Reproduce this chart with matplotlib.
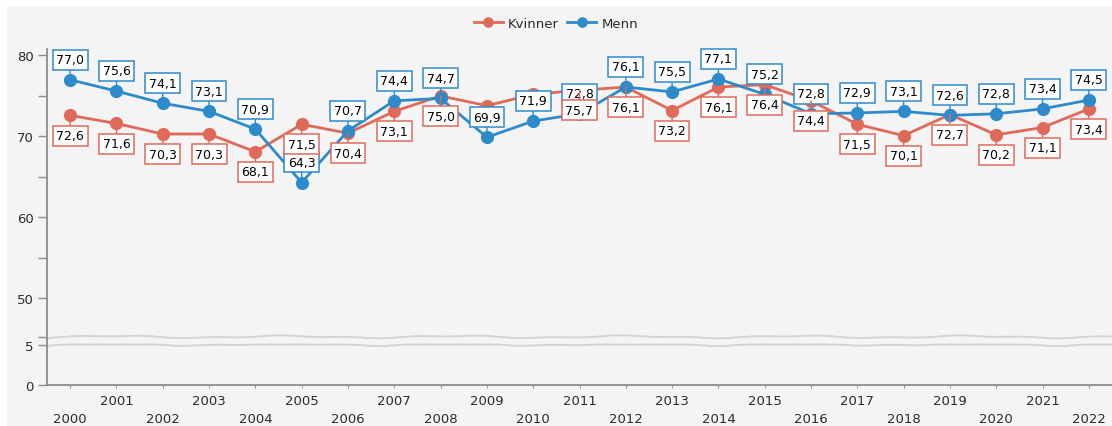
import matplotlib
matplotlib.use("Agg")
import matplotlib.pyplot as plt
import numpy as np
from matplotlib.patches import Rectangle

years = list(range(2000, 2023))
kvinner = [72.6, 71.6, 70.3, 70.3, 68.1, 71.5, 70.4, 73.1, 75.0, 73.8, 75.2, 75.7,
           76.1, 73.2, 76.1, 76.4, 74.4, 71.5, 70.1, 72.7, 70.2, 71.1, 73.4]
menn = [77.0, 75.6, 74.1, 73.1, 70.9, 64.3, 70.7, 74.4, 74.7, 69.9, 71.9, 72.8,
        76.1, 75.5, 77.1, 75.2, 72.8, 72.9, 73.1, 72.6, 72.8, 73.4, 74.5]
kvinner_no_label = [2009, 2010]  # labels not shown in the original

col_k = "#E0695A"
col_m = "#2E8BCB"
bg = "#F4F4F4"
axis_col = "#8C8C8C"
text_col = "#2B2B2B"

# broken y axis: squeeze 5..45 into a tiny band
def fwd(y):
    y = np.asarray(y, float)
    return np.where(y <= 5, y, np.where(y <= 45, 5 + (y - 5) * 0.7 / 40, y - 39.3))

def inv(t):
    t = np.asarray(t, float)
    return np.where(t <= 5, t, np.where(t <= 5.7, 5 + (t - 5) * 40 / 0.7, t + 39.3))

fig = plt.figure(figsize=(11.12, 4.27), dpi=100, facecolor=bg)
# white margin strips at the top and left
fig.patches.append(Rectangle((0, 1 - 6 / 427), 1, 6 / 427, transform=fig.transFigure,
                             color="white", zorder=-1))
fig.patches.append(Rectangle((0, 0), 6 / 1112, 1, transform=fig.transFigure,
                             color="white", zorder=-1))

ax = fig.add_axes([47 / 1112, 41 / 427, 1 - 47 / 1112, 336 / 427])
ax.set_facecolor(bg)
ax.set_yscale("function", functions=(fwd, inv))
ax.set_ylim(0, 80.8)
ax.set_xlim(-0.5, len(years) - 0.5)

x = np.arange(len(years))
ax.plot(x, kvinner, color=col_k, lw=2.0, marker="o", ms=9.5, mew=0, label="Kvinner", zorder=3)
ax.plot(x, menn, color=col_m, lw=2.0, marker="o", ms=9.5, mew=0, label="Menn", zorder=4)

def fmt(v):
    return f"{v:.1f}".replace(".", ",")

def label(xi, v, color, dy):
    ax.annotate(fmt(v), (xi, v), xytext=(0, dy), textcoords="offset points",
                ha="center", va="center", fontsize=9, color="black", zorder=6,
                bbox=dict(boxstyle="square,pad=0.28", fc="white", ec=color, lw=1.1),
                arrowprops=dict(arrowstyle="-", color=color, lw=1, shrinkA=0, shrinkB=0))

for i, y in enumerate(years):
    label(i, menn[i], col_m, 14.5)
    if y not in kvinner_no_label:
        label(i, kvinner[i], col_k, -14.5)

# break marks
xs = np.linspace(-0.5, len(years) - 0.5, 600)
wig = 0.12 * np.sin(xs * 1.7) + 0.07 * np.sin(xs * 4.3 + 1.0)
for base in (5.0, 45.25):
    ax.plot(xs, base + wig, color="#D2D2D2", lw=1.3, zorder=2, clip_on=False)

# y ticks
ax.set_yticks([0, 5, 50, 60, 70, 80])
ax.set_yticks([45.25, 55, 65, 75], minor=True)
ax.tick_params(axis="y", which="both", length=6.5, width=1, color=axis_col,
               labelsize=9.5, labelcolor=text_col, pad=3)
ax.yaxis.set_minor_formatter(plt.NullFormatter())

# x ticks on two rows
even = [i for i in x if years[i] % 2 == 0]
odd = [i for i in x if years[i] % 2 == 1]
ax.set_xticks(even, [str(years[i]) for i in even])
ax.set_xticks(odd, [str(years[i]) for i in odd], minor=True)
ax.tick_params(axis="x", which="major", length=2.2, color=axis_col, labelsize=9.5,
               labelcolor=text_col, pad=17)
ax.tick_params(axis="x", which="minor", length=2.2, color=axis_col, labelsize=9.5,
               labelcolor=text_col, pad=4)

for s in ("top", "right"):
    ax.spines[s].set_visible(False)
for s in ("left", "bottom"):
    ax.spines[s].set_color(axis_col)
    ax.spines[s].set_linewidth(1.3)

fig.legend(loc="center", bbox_to_anchor=(0.5, 1 - 24 / 427), ncol=2, frameon=False,
           fontsize=9.5, handlelength=2.2, columnspacing=0.6, handletextpad=0.4,
           markerscale=0.8, labelcolor=text_col)

fig.savefig("out.png", dpi=100, facecolor=bg)
